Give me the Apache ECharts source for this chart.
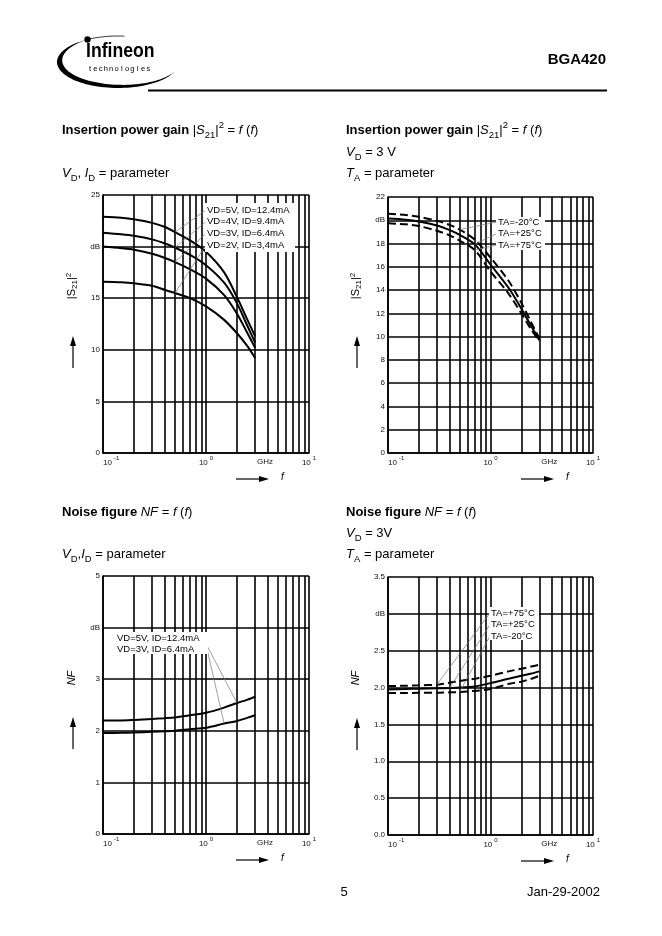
<!DOCTYPE html>
<html><head><meta charset="utf-8">
<script src="https://cdn.jsdelivr.net/npm/echarts@6/dist/echarts.min.js"></script>
<style>html,body{margin:0;padding:0;background:#fff;}#c{width:662px;height:936px;}</style>
</head><body><div id="c"></div>
<script>
// ---------------- data ----------------
const freqGHz = [0.1, 0.15, 0.2, 0.3, 0.4, 0.5, 0.7, 1.0, 1.5, 2.0, 2.5, 3.0];
// Insertion power gain |S21|^2 (dB), VD/ID = parameter
const gainVD5 = [22.9, 22.8, 22.65, 22.3, 21.9, 21.4, 20.6, 19.5, 17.5, 15.1, 13.0, 11.3];
const gainVD4 = [21.35, 21.2, 21.05, 20.7, 20.3, 19.9, 19.2, 18.2, 16.5, 14.5, 12.4, 10.7];
const gainVD3 = [20.0, 19.85, 19.7, 19.3, 18.9, 18.5, 17.8, 16.9, 15.3, 13.5, 11.7, 10.2];
const gainVD2 = [16.6, 16.55, 16.45, 16.2, 15.8, 15.5, 15.0, 14.2, 12.9, 11.6, 10.4, 9.2];
// Insertion power gain (dB), VD = 3 V, TA = parameter
const gainTm20 = [20.55, 20.45, 20.3, 19.95, 19.6, 19.2, 18.35, 16.8, 14.8, 12.9, 11.2, 9.85];
const gainTp25 = [20.15, 20.05, 19.9, 19.55, 19.15, 18.75, 17.95, 16.2, 14.2, 12.4, 10.9, 9.7];
const gainTp75 = [19.75, 19.65, 19.5, 19.1, 18.7, 18.25, 17.45, 15.6, 13.7, 12.0, 10.6, 9.6];
// Noise figure (dB), VD/ID = parameter
const nfVD5 = [2.2, 2.2, 2.21, 2.23, 2.245, 2.26, 2.3, 2.35, 2.45, 2.54, 2.6, 2.66];
const nfVD3 = [1.955, 1.96, 1.965, 1.98, 1.99, 2.0, 2.03, 2.06, 2.14, 2.19, 2.25, 2.3];
// Noise figure (dB), VD = 3 V, TA = parameter
const nfTp75 = [2.02, 2.025, 2.03, 2.04, 2.065, 2.09, 2.12, 2.16, 2.22, 2.255, 2.285, 2.31];
const nfTp25 = [1.975, 1.98, 1.985, 1.99, 1.995, 2.0, 2.015, 2.06, 2.12, 2.16, 2.19, 2.22];
const nfTm20 = [1.925, 1.925, 1.93, 1.93, 1.935, 1.94, 1.955, 1.98, 2.05, 2.08, 2.12, 2.16];
// grid lines of the log paper (GHz)
const minorGridGHz = [0.2, 0.3, 0.4, 0.5, 0.6, 0.7, 0.8, 0.9, 2, 3, 4, 5, 6, 7, 8, 9];
// curve labels
const labelsGain1 = ['VD=5V, ID=12.4mA', 'VD=4V, ID=9.4mA', 'VD=3V, ID=6.4mA', 'VD=2V, ID=3,4mA'];
const labelsGain2 = ['TA=-20°C', 'TA=+25°C', 'TA=+75°C'];
const labelsNF1 = ['VD=5V, ID=12.4mA', 'VD=3V, ID=6.4mA'];
const labelsNF2 = ['TA=+75°C', 'TA=+25°C', 'TA=-20°C'];

// ---------------- chart ----------------
const FONT = '"Liberation Sans", Arial, Helvetica, sans-serif';
const DASH = [8, 4];
const chart = echarts.init(document.getElementById('c'), null, {renderer: 'canvas'});

const grids = [
  {left: 103, top: 195, width: 206, height: 258},
  {left: 388, top: 197, width: 205, height: 256},
  {left: 103, top: 576, width: 206, height: 258},
  {left: 388, top: 577, width: 205, height: 258}
];
const yCfg = [
  {min: 0, max: 25, interval: 5, db: 20, dec: 0},
  {min: 0, max: 22, interval: 2, db: 20, dec: 0},
  {min: 0, max: 5, interval: 1, db: 4, dec: 0},
  {min: 0, max: 3.5, interval: 0.5, db: 3, dec: 1}
];
const GRIDW = 1.6;

function xAxis(i) {
  return {
    type: 'log', logBase: 10, gridIndex: i, min: 0.1, max: 10,
    axisLine: {onZero: false, lineStyle: {color: '#000', width: GRIDW}},
    axisTick: {show: false},
    splitLine: {show: true, lineStyle: {color: '#000', width: GRIDW}},
    axisLabel: {
      margin: 2, alignMinLabel: 'left',
      formatter: v => '{b|10}{s|' + Math.round(Math.log10(v)) + '}',
      rich: {
        b: {fontSize: 8, fontFamily: FONT, color: '#111', lineHeight: 12, verticalAlign: 'bottom'},
        s: {fontSize: 6, fontFamily: FONT, color: '#111', lineHeight: 7, verticalAlign: 'top', padding: [0, 0, 0, 2]}
      }
    }
  };
}
function yAxis(i) {
  const c = yCfg[i];
  return {
    type: 'value', gridIndex: i, min: c.min, max: c.max, interval: c.interval,
    axisLine: {show: true, onZero: false, lineStyle: {color: '#000', width: GRIDW}},
    axisTick: {show: false},
    splitLine: {show: true, lineStyle: {color: '#000', width: GRIDW}},
    axisLabel: {
      margin: 3, fontSize: 8, fontFamily: FONT, color: '#111',
      formatter: v => (Math.abs(v - c.db) < 1e-9 ? 'dB' : v.toFixed(c.dec))
    }
  };
}
function curve(gi, arr, dashed, smooth) {
  return {
    type: 'line', xAxisIndex: gi, yAxisIndex: gi, z: 5, silent: true, animation: false,
    data: freqGHz.map((f, k) => [f, arr[k]]), symbol: 'none', smooth: smooth,
    lineStyle: {color: '#000', width: 2, type: dashed ? DASH : 'solid'}
  };
}
function gridSeries(gi) {
  return {
    type: 'line', xAxisIndex: gi, yAxisIndex: gi, z: 1, silent: true, animation: false, data: [],
    markLine: {
      silent: true, animation: false, symbol: ['none', 'none'], label: {show: false},
      lineStyle: {color: '#000', width: GRIDW, type: 'solid'},
      emphasis: {disabled: true},
      data: minorGridGHz.map(v => ({xAxis: v}))
    }
  };
}

const series = [];
for (let i = 0; i < 4; i++) series.push(gridSeries(i));
[gainVD5, gainVD4, gainVD3, gainVD2].forEach(a => series.push(curve(0, a, false, 0.3)));
series.push(curve(1, gainTm20, true, 0.3), curve(1, gainTp25, false, 0.3), curve(1, gainTp75, true, 0.3));
series.push(curve(2, nfVD5, false, 0.3), curve(2, nfVD3, false, 0.3));
series.push(curve(3, nfTp75, true, 0.2), curve(3, nfTp25, false, 0.2), curve(3, nfTm20, true, 0.2));

chart.setOption({
  backgroundColor: '#fff',
  animation: false,
  grid: grids.map(g => Object.assign({containLabel: false}, g)),
  xAxis: [0, 1, 2, 3].map(xAxis),
  yAxis: [0, 1, 2, 3].map(yAxis),
  series: series
});

// ---------------- page graphics ----------------
const P = (gi, f, v) => chart.convertToPixel({gridIndex: gi}, [f, v]);
const el = [];
const rich13 = {
  b: {fontFamily: FONT, fontSize: 13, fontWeight: 'bold', lineHeight: 20, fill: '#000'},
  n: {fontFamily: FONT, fontSize: 13, lineHeight: 20, fill: '#000'},
  i: {fontFamily: FONT, fontSize: 13, fontStyle: 'italic', lineHeight: 20, fill: '#000'},
  sub: {fontFamily: FONT, fontSize: 9.5, lineHeight: 10, verticalAlign: 'bottom', fill: '#000'},
  sup: {fontFamily: FONT, fontSize: 9.5, lineHeight: 12, verticalAlign: 'top', fill: '#000'}
};
function rt(x, y, text, extra) {
  el.push(Object.assign({type: 'text', x: x, y: y, z: 100, silent: true,
    style: {text: text, rich: rich13, align: 'left', verticalAlign: 'middle', fill: '#000'}}, extra || {}));
}
function plain(x, y, text, size, opts, extra) {
  el.push(Object.assign({type: 'text', x: x, y: y, z: 100, silent: true,
    style: Object.assign({text: text, fontFamily: FONT, fontSize: size, fill: '#000', align: 'left', verticalAlign: 'middle'}, opts || {})}, extra || {}));
}
function line(x1, y1, x2, y2, w, color, z) {
  el.push({type: 'line', z: z || 60, silent: true, shape: {x1, y1, x2, y2}, style: {stroke: color || '#000', lineWidth: w}});
}
function rect(x, y, w, h) {
  el.push({type: 'rect', z: 80, silent: true, shape: {x, y, width: w, height: h}, style: {fill: '#fff'}});
}
function tri(pts) {
  el.push({type: 'polygon', z: 60, silent: true, shape: {points: pts}, style: {fill: '#000'}});
}

// header / logo
(function logo() {
  const cx = 118, cy = 62, rx = 61, ry = 26;
  const th0 = 240 * Math.PI / 180, th1 = 22 * Math.PI / 180;
  const N = 70, outer = [], inner = [];
  for (let k = 0; k <= N; k++) {
    const s = k / N, th = th0 + (th1 - th0) * s;
    const t = 7 * Math.sin(Math.PI * s);
    outer.push([cx + rx * Math.cos(th), cy + ry * Math.sin(th)]);
    inner.push([cx + (rx - t) * Math.cos(th), cy + (ry - t * 0.55) * Math.sin(th)]);
  }
  el.push({type: 'polygon', z: 50, silent: true, shape: {points: outer.concat(inner.reverse())}, style: {fill: '#000'}});
  const top = [];
  for (let k = 0; k <= 20; k++) {
    const th = (240 + k * 1.8) * Math.PI / 180;
    top.push([cx + rx * Math.cos(th), cy + ry * Math.sin(th)]);
  }
  el.push({type: 'polyline', z: 50, silent: true, shape: {points: top}, style: {stroke: '#000', lineWidth: 0.8, fill: null}});
  el.push({type: 'circle', z: 50, silent: true, shape: {cx: cx + rx * Math.cos(th0), cy: cy + ry * Math.sin(th0), r: 3.2}, style: {fill: '#000'}});
  plain(0, 0, 'Infineon', 21, {fontWeight: 'bold'}, {x: 86, y: 51, scaleX: 0.84});
  const tech = 'technologies';
  for (let k = 0; k < tech.length; k++) plain(90 + k * 5.3, 69, tech[k], 7.5, {align: 'center'});
})();
plain(606, 60, 'BGA420', 15, {fontWeight: 'bold', align: 'right'});
line(148, 90.5, 607, 90.5, 2, '#000', 50);

// section titles
const tGain = '{b|Insertion power gain }{n||}{i|S}{sub|21}{n||}{sup|2}{n| = }{i|f}{n| (}{i|f}{n|)}';
const tNF = '{b|Noise figure }{i|NF}{n| = }{i|f}{n| (}{i|f}{n|)}';
rt(62, 130, tGain);
rt(62, 173, '{i|V}{sub|D}{n|, }{i|I}{sub|D}{n| = parameter}');
rt(346, 130, tGain);
rt(346, 152, '{i|V}{sub|D}{n| = 3 V}');
rt(346, 173, '{i|T}{sub|A}{n| = parameter}');
rt(62, 512, tNF);
rt(62, 554, '{i|V}{sub|D}{n|,}{i|I}{sub|D}{n| = parameter}');
rt(346, 512, tNF);
rt(346, 533, '{i|V}{sub|D}{n| = 3V}');
rt(346, 554, '{i|T}{sub|A}{n| = parameter}');

// axis titles + arrows
const richAx = {
  n: {fontFamily: FONT, fontSize: 11, lineHeight: 14, fill: '#000'},
  i: {fontFamily: FONT, fontSize: 11, fontStyle: 'italic', lineHeight: 14, fill: '#000'},
  sub: {fontFamily: FONT, fontSize: 8, lineHeight: 8, verticalAlign: 'bottom', fill: '#000'},
  sup: {fontFamily: FONT, fontSize: 8, lineHeight: 9, verticalAlign: 'top', fill: '#000'}
};
function yTitle(x, y, text) {
  el.push({type: 'text', x: x, y: y, rotation: Math.PI / 2, z: 100, silent: true,
    style: {text: text, rich: richAx, align: 'center', verticalAlign: 'middle', fill: '#000'}});
}
function upArrow(x, yTop, yBot) {
  line(x, yTop + 8, x, yBot, 1.2);
  tri([[x - 3, yTop + 10], [x, yTop], [x + 3, yTop + 10]]);
}
function rightArrow(x0, x1, y) {
  line(x0, y, x1 - 8, y, 1.2);
  tri([[x1 - 10, y - 3], [x1, y], [x1 - 10, y + 3]]);
}
const sTitle = '{n||S}{sub|21}{n||}{sup|2}';
[[0, 72, 286], [1, 356, 286], [2, 72, 678], [3, 356, 678]].forEach(([gi, x, y]) => {
  yTitle(x, y, gi < 2 ? sTitle : '{i|NF}');
  const g = grids[gi];
  const yb = g.top + g.height;
  upArrow(x + 1, yb - 117, yb - 85);
  rightArrow(g.left + 133, g.left + 166, yb + 26);
  el.push({type: 'text', x: g.left + 178, y: yb + 24, z: 100, silent: true,
    style: {text: 'f', fontFamily: FONT, fontSize: 10, fontStyle: 'italic', fill: '#000', align: 'left', verticalAlign: 'middle'}});
  plain(g.left + 0.787 * g.width, yb + 9, 'GHz', 8, {align: 'center', fill: '#111'});
});

// curve labels with leader lines
function labelBlock(gi, box, x, ys, texts, targets, anchorX) {
  rect(box[0], box[1], box[2], box[3]);
  texts.forEach((t, k) => plain(x, ys[k], t, 9.5, {fill: '#000'}));
  targets.forEach((tg, k) => {
    const p = P(gi, tg[0], tg[1]);
    const ax = Array.isArray(anchorX) ? anchorX[k] : anchorX;
    line(ax, ys[k], p[0], p[1], 0.7, '#777', 70);
  });
}
labelBlock(0, [205, 203, 90, 49], 207, [210, 221.7, 233.4, 245], labelsGain1,
  [[freqGHz[5], gainVD5[5]], [freqGHz[5], gainVD4[5]], [freqGHz[5], gainVD3[5]], [freqGHz[5], gainVD2[5]]], 206);
labelBlock(1, [496, 217, 49, 33], 498, [222, 233.5, 245], labelsGain2,
  [[freqGHz[5], gainTm20[5]], [freqGHz[6], gainTp25[6]], [freqGHz[6], gainTp75[6]]], 497);
labelBlock(2, [114, 632, 94, 22], 117, [638, 649], labelsNF1,
  [[freqGHz[9], nfVD5[9]], [freqGHz[8], nfVD3[8]]], [203, 207]);
labelBlock(3, [489, 607, 50, 33], 491, [613, 624.5, 636], labelsNF2,
  [[freqGHz[3], nfTp75[3]], [freqGHz[4], nfTp25[4]], [freqGHz[5], nfTm20[5]]], 490);

// footer
plain(344, 892, '5', 13, {align: 'center'});
plain(600, 892, 'Jan-29-2002', 13, {align: 'right'});

chart.setOption({graphic: {elements: el}});
</script>
</body></html>
